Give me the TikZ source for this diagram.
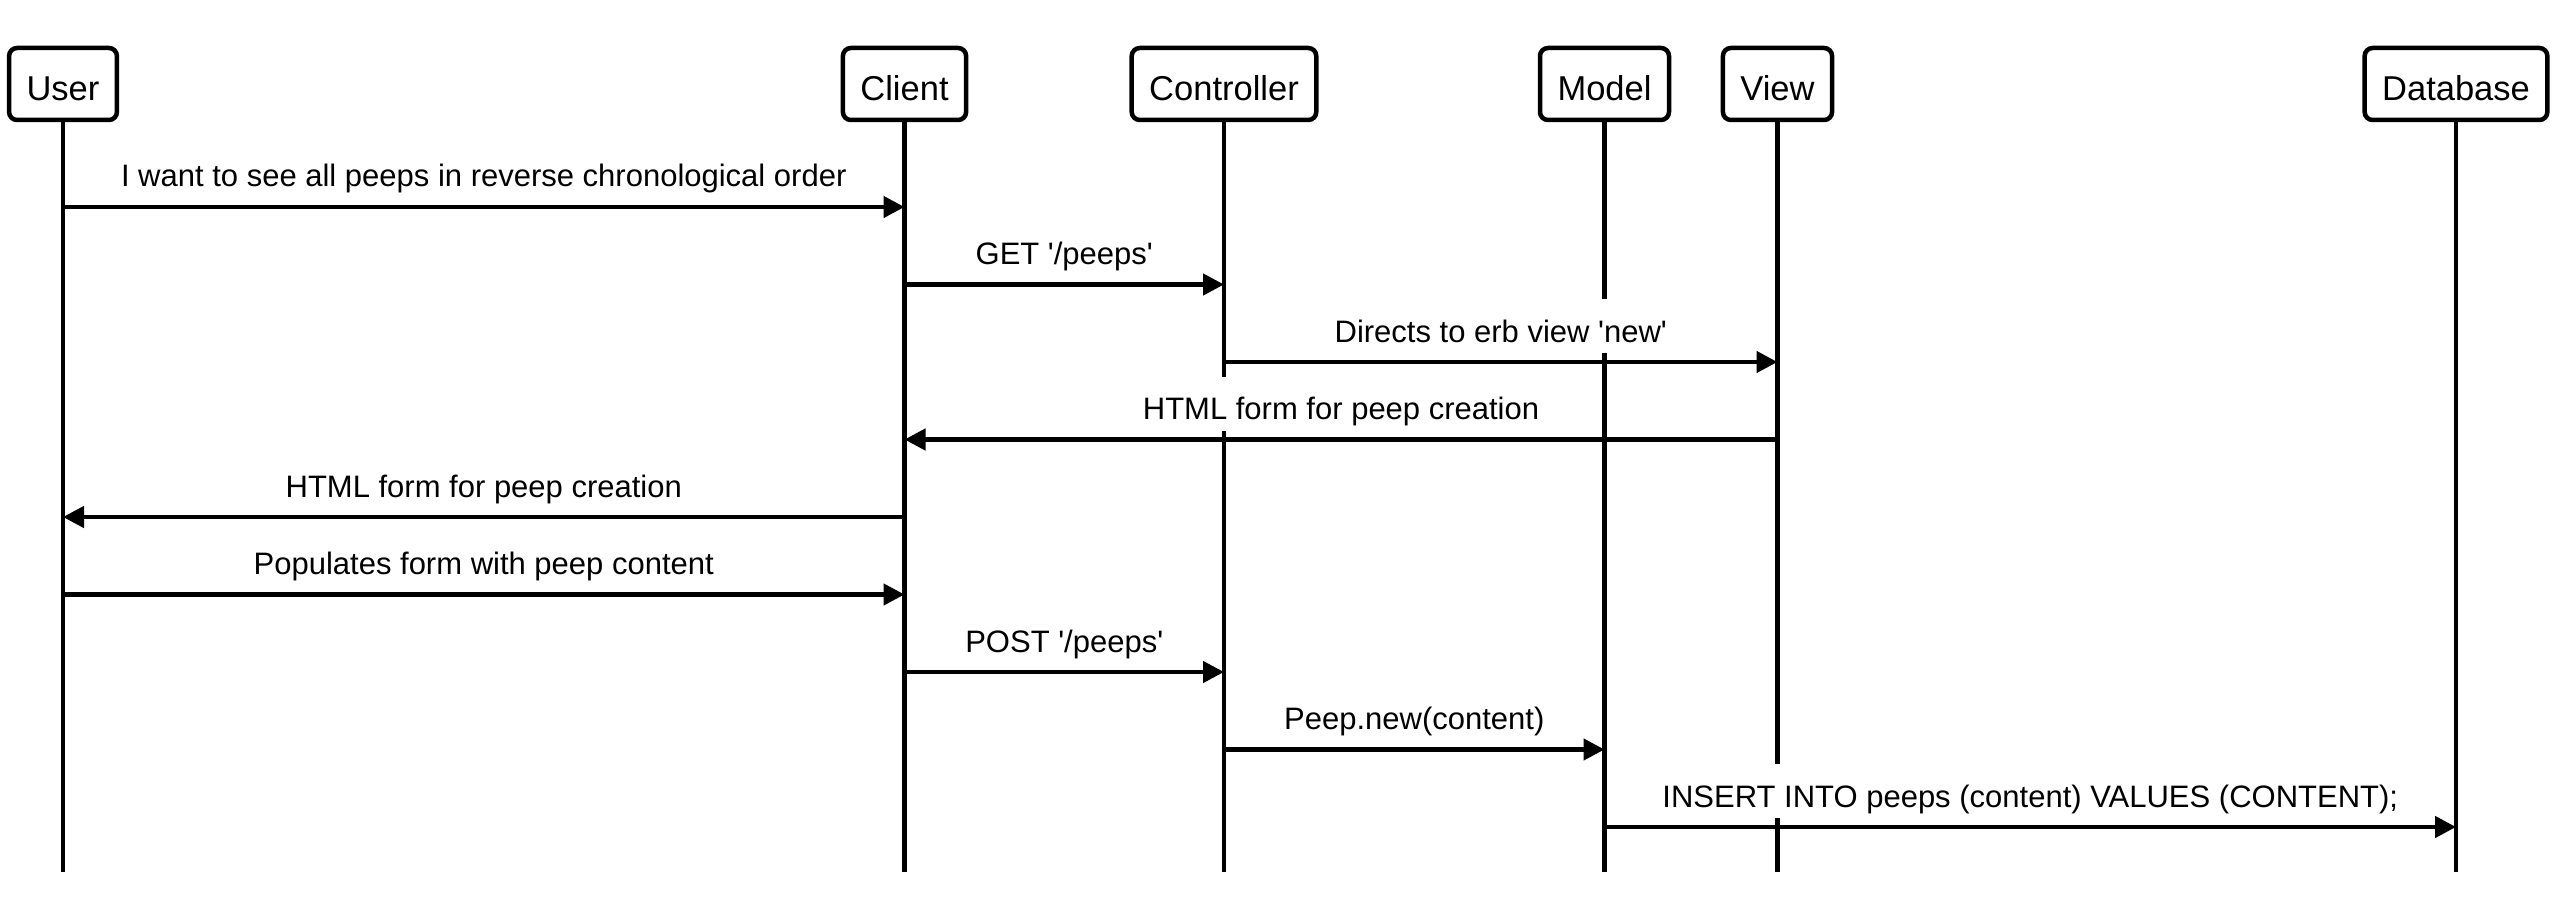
\documentclass[tikz,border=0pt]{standalone}
\usepackage{fontspec}
\newfontfamily\arialf{Liberation Sans}
\usetikzlibrary{arrows.meta,calc}
\tikzset{
  actor/.style={draw, line width=4.5pt, rounded corners=8pt, fill=white, minimum height=72pt, inner xsep=17.5pt, inner ysep=0pt, text height=34pt, text depth=0pt, font=\arialf\fontsize{34.5}{41}\selectfont},
  life/.style={line width=4.2pt},
  msg/.style={line width=4.5pt, -{Triangle[length=21pt,width=21pt]}},
  lab/.style={fill=white, anchor=base, inner xsep=6pt, inner ysep=0pt, text height=43pt, text depth=11pt, font=\arialf\fontsize{31}{37}\selectfont}
}
\begin{document}
\begin{tikzpicture}[x=1pt,y=-1pt]
\useasboundingbox (0,0) rectangle (2556,912);
% actors
\node[actor] (u) at (63,84) {User};
\node[actor] (c) at (904.5,84) {Client};
\node[actor] (ct) at (1224,84) {Controller};
\node[actor] (m) at (1604.5,84) {Model};
\node[actor] (v) at (1777.5,84) {View};
\node[actor] (d) at (2456,84) {Database};
% lifeline ends
\coordinate (ue) at (63,872);
\coordinate (ce) at (904.5,872);
\coordinate (cte) at (1224,872);
\coordinate (me) at (1604.5,872);
\coordinate (ve) at (1777.5,872);
\coordinate (de) at (2456,872);
\foreach \n in {u,c,ct,m,v,d} \draw[life] (\n.south) -- (\n e);
% message points
\coordinate (u1) at (63,207);     \coordinate (c1) at (904.5,207);
\coordinate (c2) at (904.5,284.5); \coordinate (ct2) at (1224,284.5);
\coordinate (ct3) at (1224,362);   \coordinate (v3) at (1777.5,362);
\coordinate (v4) at (1777.5,439.5); \coordinate (c4) at (904.5,439.5);
\coordinate (c5) at (904.5,517);   \coordinate (u5) at (63,517);
\coordinate (u6) at (63,594.5);    \coordinate (c6) at (904.5,594.5);
\coordinate (c7) at (904.5,672);   \coordinate (ct7) at (1224,672);
\coordinate (ct8) at (1224,749.5); \coordinate (m8) at (1604.5,749.5);
\coordinate (m9) at (1604.5,827);  \coordinate (d9) at (2456,827);
% labels
\node[lab] (l1) at ([yshift=20pt]$(u1)!0.5!(c1)$) {I want to see all peeps in reverse chronological order};
\node[lab] (l2) at ([yshift=20pt]$(c2)!0.5!(ct2)$) {GET '/peeps'};
\node[lab] (l3) at ([yshift=20pt]$(ct3)!0.5!(v3)$) {Directs to erb view 'new'};
\node[lab] (l4) at ([yshift=20pt]$(v4)!0.5!(c4)$) {HTML form for peep creation};
\node[lab] (l5) at ([yshift=20pt]$(c5)!0.5!(u5)$) {HTML form for peep creation};
\node[lab] (l6) at ([yshift=20pt]$(u6)!0.5!(c6)$) {Populates form with peep content};
\node[lab] (l7) at ([yshift=20pt]$(c7)!0.5!(ct7)$) {POST '/peeps'};
\node[lab] (l8) at ([yshift=20pt]$(ct8)!0.5!(m8)$) {Peep.new(content)};
\node[lab] (l9) at ([yshift=20pt]$(m9)!0.5!(d9)$) {INSERT INTO peeps (content) VALUES (CONTENT);};
% messages
\draw[msg] (u1) -- (c1);
\draw[msg] (c2) -- (ct2);
\draw[msg] (ct3) -- (v3);
\draw[msg] (v4) -- (c4);
\draw[msg] (c5) -- (u5);
\draw[msg] (u6) -- (c6);
\draw[msg] (c7) -- (ct7);
\draw[msg] (ct8) -- (m8);
\draw[msg] (m9) -- (d9);
\end{tikzpicture}
\end{document}
